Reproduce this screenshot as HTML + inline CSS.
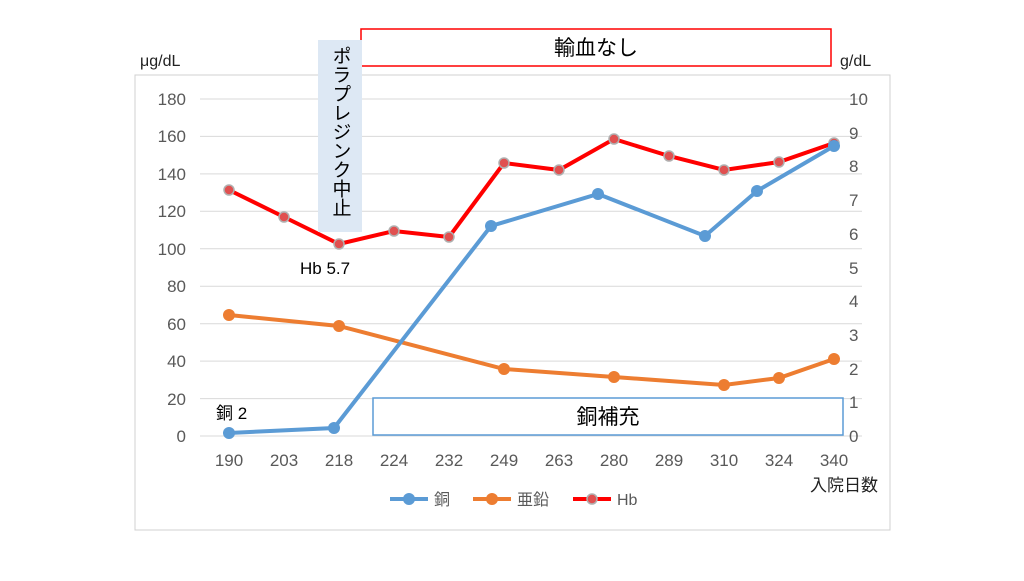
<!DOCTYPE html>
<html><head><meta charset="utf-8"><style>
body{margin:0;background:#fff;width:1024px;height:576px;overflow:hidden}
text{font-family:"Liberation Sans","Noto Sans CJK JP",sans-serif}
</style></head><body>
<svg width="1024" height="576" viewBox="0 0 1024 576" xmlns="http://www.w3.org/2000/svg">
<rect x="135" y="75" width="755" height="455" fill="#fff" stroke="#d0d0d0"/>
<g stroke="#d9d9d9" stroke-width="1">
<line x1="200" x2="862" y1="99" y2="99"/><line x1="200" x2="862" y1="136.4" y2="136.4"/>
<line x1="200" x2="862" y1="173.9" y2="173.9"/><line x1="200" x2="862" y1="211.3" y2="211.3"/>
<line x1="200" x2="862" y1="248.8" y2="248.8"/><line x1="200" x2="862" y1="286.2" y2="286.2"/>
<line x1="200" x2="862" y1="323.7" y2="323.7"/><line x1="200" x2="862" y1="361.1" y2="361.1"/>
<line x1="200" x2="862" y1="398.6" y2="398.6"/><line x1="200" x2="862" y1="436" y2="436"/>
</g>
<g fill="#595959" font-size="17" text-anchor="end">
<text x="186" y="105">180</text><text x="186" y="142">160</text><text x="186" y="180">140</text>
<text x="186" y="217">120</text><text x="186" y="255">100</text><text x="186" y="292">80</text>
<text x="186" y="330">60</text><text x="186" y="367">40</text><text x="186" y="405">20</text><text x="186" y="442">0</text>
</g>
<g fill="#595959" font-size="17">
<text x="849" y="105">10</text><text x="849" y="139">9</text><text x="849" y="172">8</text>
<text x="849" y="206">7</text><text x="849" y="240">6</text><text x="849" y="274">5</text>
<text x="849" y="307">4</text><text x="849" y="341">3</text><text x="849" y="375">2</text>
<text x="849" y="408">1</text><text x="849" y="442">0</text>
</g>
<g fill="#595959" font-size="17" text-anchor="middle">
<text x="229" y="466">190</text><text x="284" y="466">203</text><text x="339" y="466">218</text>
<text x="394" y="466">224</text><text x="449" y="466">232</text><text x="504" y="466">249</text>
<text x="559" y="466">263</text><text x="614" y="466">280</text><text x="669" y="466">289</text>
<text x="724" y="466">310</text><text x="779" y="466">324</text><text x="834" y="466">340</text>
</g>
<text x="140" y="66" font-size="16" fill="#222">μg/dL</text>
<text x="840" y="66" font-size="16" fill="#222">g/dL</text>
<text x="810" y="491" font-size="17" fill="#222">入院日数</text>
<polyline fill="none" stroke="#ff0000" stroke-width="4" points="229,190 284,217 339,244 394,231 449,237 504,163 559,170 614,139 669,156 724,170 779,162 834,143"/>
<g fill="#e05050" stroke="#b0b0b0" stroke-width="1.5">
<circle cx="229" cy="190" r="5"/><circle cx="284" cy="217" r="5"/><circle cx="339" cy="244" r="5"/><circle cx="394" cy="231" r="5"/><circle cx="449" cy="237" r="5"/><circle cx="504" cy="163" r="5"/><circle cx="559" cy="170" r="5"/><circle cx="614" cy="139" r="5"/><circle cx="669" cy="156" r="5"/><circle cx="724" cy="170" r="5"/><circle cx="779" cy="162" r="5"/><circle cx="834" cy="143" r="5"/>
</g>
<polyline fill="none" stroke="#ed7d31" stroke-width="4" points="229,315 339,326 504,369 614,377 724,385 779,378 834,359"/>
<g fill="#ed7d31"><circle cx="229" cy="315" r="6"/><circle cx="339" cy="326" r="6"/><circle cx="504" cy="369" r="6"/><circle cx="614" cy="377" r="6"/><circle cx="724" cy="385" r="6"/><circle cx="779" cy="378" r="6"/><circle cx="834" cy="359" r="6"/></g>
<polyline fill="none" stroke="#5b9bd5" stroke-width="4" points="229,433 334,428 491,226 598,194 705,236 757,191 834,146"/>
<g fill="#5b9bd5"><circle cx="229" cy="433" r="6"/><circle cx="334" cy="428" r="6"/><circle cx="491" cy="226" r="6"/><circle cx="598" cy="194" r="6"/><circle cx="705" cy="236" r="6"/><circle cx="757" cy="191" r="6"/><circle cx="834" cy="146" r="6"/></g>
<rect x="361" y="29" width="470" height="37" fill="#fff" stroke="#ff0000" stroke-width="1.5"/>
<text x="596" y="55" font-size="21" text-anchor="middle" fill="#000">輸血なし</text>
<rect x="373" y="398" width="470" height="37" fill="#fff" stroke="#5b9bd5" stroke-width="1.5"/>
<text x="608" y="424" font-size="21" text-anchor="middle" fill="#000">銅補充</text>
<rect x="318" y="40" width="44" height="192" fill="#dde8f4"/>
<text x="340" y="46" font-size="19" fill="#000" writing-mode="tb" style="writing-mode:vertical-rl;text-orientation:upright">ポラプレジンク中止</text>
<text x="300" y="274" font-size="17" fill="#000">Hb 5.7</text>
<text x="216" y="419" font-size="17" fill="#000">銅 2</text>
<g font-size="16" fill="#595959">
<line x1="390" x2="428" y1="499" y2="499" stroke="#5b9bd5" stroke-width="4"/><circle cx="409" cy="499" r="6" fill="#5b9bd5"/><text x="434" y="505">銅</text>
<line x1="473" x2="511" y1="499" y2="499" stroke="#ed7d31" stroke-width="4"/><circle cx="492" cy="499" r="6" fill="#ed7d31"/><text x="517" y="505">亜鉛</text>
<line x1="573" x2="611" y1="499" y2="499" stroke="#ff0000" stroke-width="4"/><circle cx="592" cy="499" r="5" fill="#e05050" stroke="#b0b0b0" stroke-width="1.5"/><text x="617" y="505">Hb</text>
</g>
</svg>
</body></html>
